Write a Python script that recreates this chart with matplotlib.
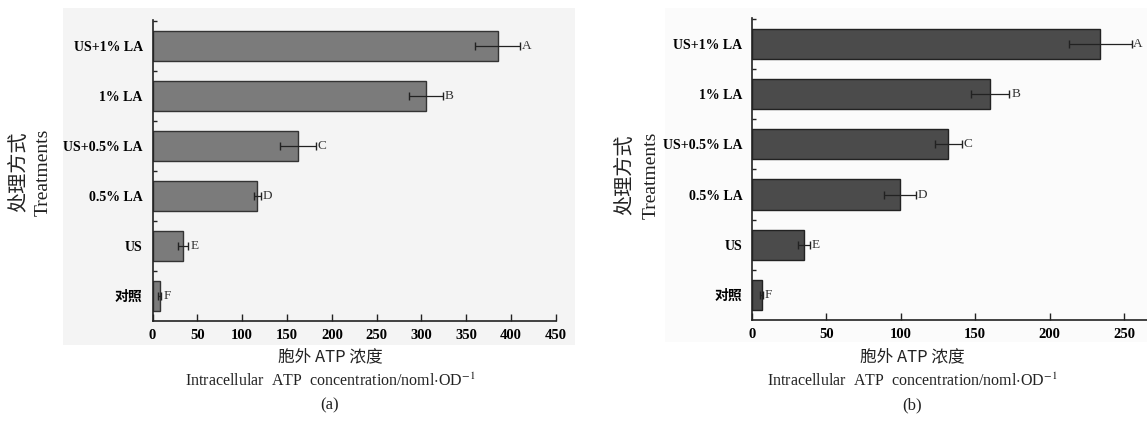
import matplotlib
matplotlib.use("Agg")
import matplotlib.pyplot as plt
import numpy as np
from matplotlib.patches import Rectangle

plt.rcParams['font.family'] = ['Liberation Serif', 'Noto Sans CJK SC']
plt.rcParams['mathtext.fontset'] = 'stix'

# Data (top to bottom in chart order)
categories = ["US+1% LA", "1% LA", "US+0.5% LA", "0.5% LA", "US", "对照"]
letters = ["A", "B", "C", "D", "E", "F"]

values_a = [385, 305, 162, 117, 34, 8]
errors_a = [25, 19, 20, 3.5, 6, 2]

values_b = [234, 160, 132, 99.5, 35, 6.5]
errors_b = [21, 13, 9, 10.5, 4, 1]

xticks_a = [0, 50, 100, 150, 200, 250, 300, 350, 400, 450]
xticks_b = [0, 50, 100, 150, 200, 250]

W, H = 1147, 425
fig = plt.figure(figsize=(W / 100, H / 100), dpi=100)
fig.patch.set_facecolor('white')

def px_rect(x0, y0, x1, y1):
    return [x0 / W, 1 - y1 / H, (x1 - x0) / W, (y1 - y0) / H]

# light background panels on a full-figure background axes
bg = fig.add_axes([0, 0, 1, 1], zorder=-5)
bg.set_xlim(0, W)
bg.set_ylim(H, 0)
bg.axis('off')
for (x0, y0, x1, y1, c) in [(62.7, 8.3, 575, 344.5, '#f4f4f4'), (665, 8, 1147, 342, '#fbfbfb')]:
    bg.add_patch(Rectangle((x0, y0), x1 - x0, y1 - y0, facecolor=c, edgecolor='none'))

def draw_panel(rect, vals, errs, xticks, xlim, fill, edge, letter_off):
    ax = fig.add_axes(rect)
    ax.set_facecolor('none')
    n = len(categories)
    y = np.arange(n)[::-1]
    ax.barh(y, vals, height=0.6, color=fill, edgecolor=edge, linewidth=1.0, zorder=2)
    ax.errorbar(vals, y, xerr=errs, fmt='none', ecolor='#222222', elinewidth=0.9,
                capsize=3, capthick=1.0, zorder=3)
    for v, e, yy, lab in zip(vals, errs, y, letters):
        ax.text(v + e + letter_off, yy, lab, va='center', ha='left', fontsize=9.5,
                color='#333333', family=['Liberation Serif'])
    ax.set_ylim(-0.5, n - 0.5 + 0.01)
    ax.set_xlim(*xlim)
    ax.set_yticks(y)
    ax.set_yticklabels(categories, fontsize=10, fontweight='bold')
    ax.tick_params(axis='y', length=0, pad=7)
    ax.set_yticks(np.arange(n) + 0.5, minor=True)
    ax.tick_params(axis='y', which='minor', direction='in', length=3, width=1, color='#222222')
    ax.set_xticks(xticks)
    ax.set_xticklabels([str(t) for t in xticks], fontsize=10.5, fontweight='bold')
    ax.tick_params(axis='x', direction='in', length=5, width=1, color='#222222', pad=6)
    for s in ['top', 'right']:
        ax.spines[s].set_visible(False)
    for s in ['left', 'bottom']:
        ax.spines[s].set_linewidth(1.2)
        ax.spines[s].set_color('#222222')
    return ax

draw_panel(px_rect(152.5, 20, 556, 320.7), values_a, errors_a, xticks_a, (0, 450),
           '#7b7b7b', '#333333', 2)
draw_panel(px_rect(752, 18.3, 1147, 320), values_b, errors_b, xticks_b, (0, 265.4),
           '#4b4b4b', '#222222', 1.2)

def fy(y):
    return 1 - y / H

def fx(x):
    return x / W

# y-axis labels
for xc1, xc2, yc in [(19, 43, 172), (625, 651, 175)]:
    fig.text(fx(xc1), fy(yc), "处理方式", rotation=90, ha='center', va='center',
             fontsize=14.5, family=['Noto Sans CJK SC'], color='#222222')
    fig.text(fx(xc2), fy(yc), "Treatments", rotation=90, ha='center', va='center',
             fontsize=14, color='#222222')

# x-axis labels and panel letters
for xc, tag in [(330, "(a)"), (912, "(b)")]:
    fig.text(fx(xc), fy(357), "胞外 ATP 浓度", ha='center', va='center',
             fontsize=12, family=['Noto Sans CJK SC'], color='#222222')
    fig.text(fx(xc), fy(381), r"Intracellular  ATP  concentration/noml$\cdot$OD$^{-1}$",
             ha='center', va='center', fontsize=11.5, color='#222222')
    fig.text(fx(xc), fy(405), tag, ha='center', va='center', fontsize=12, color='#222222')

fig.savefig("out.png", dpi=100, facecolor='white')
